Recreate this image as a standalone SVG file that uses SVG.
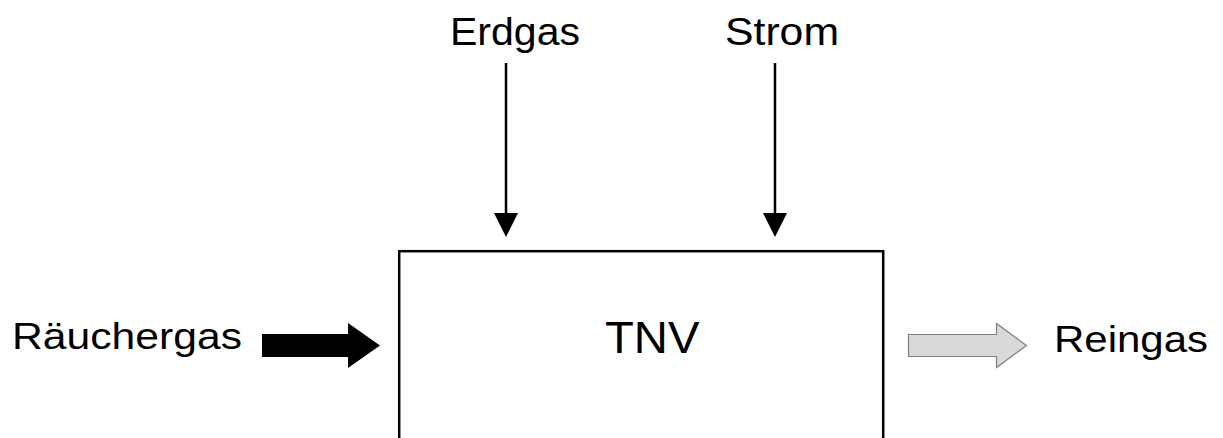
<svg xmlns="http://www.w3.org/2000/svg" width="1223" height="438" viewBox="0 0 1223 438">
  <style>
    .lbl { font-family: "Liberation Sans", Arial, sans-serif; fill: #000; }
    .flow { stroke: #000; stroke-width: 2.5; fill: none; }
    .head { fill: #000; stroke: none; }
  </style>
  <rect width="1223" height="438" fill="#fff"/>

  <!-- process unit -->
  <g id="tnv">
    <rect x="399.2" y="251.2" width="484" height="200" fill="#fff" stroke="#000" stroke-width="2.5"/>
    <text class="lbl" x="605" y="353" font-size="45" textLength="94.5" lengthAdjust="spacingAndGlyphs">TNV</text>
  </g>

  <!-- stream labels -->
  <g id="erdgas">
    <text class="lbl" x="450" y="44.5" font-size="38" textLength="130" lengthAdjust="spacingAndGlyphs">Erdgas</text>
  </g>
  <g id="strom">
    <text class="lbl" x="725" y="45" font-size="38" textLength="114" lengthAdjust="spacingAndGlyphs">Strom</text>
  </g>
  <g id="raeuchergas">
    <text class="lbl" x="12" y="348.5" font-size="37" textLength="230" lengthAdjust="spacingAndGlyphs">Räuchergas</text>
  </g>
  <g id="reingas">
    <text class="lbl" x="1054" y="351.5" font-size="37" textLength="154" lengthAdjust="spacingAndGlyphs">Reingas</text>
  </g>

  <!-- connectors -->
  <g id="connectors">
    <line class="flow" x1="506" y1="63" x2="506" y2="216"/>
    <polygon class="head" points="494,213 518,213 506,237"/>
    <line class="flow" x1="775" y1="63" x2="775" y2="216"/>
    <polygon class="head" points="763,213 787,213 775,237"/>
    <!-- incoming smoke gas: solid black block arrow -->
    <polygon fill="#000" points="262,334 348,334 348,323 380,345.5 348,368 348,357 262,357"/>
    <!-- outgoing clean gas: grey block arrow -->
    <polygon fill="#d9d9d9" stroke="#7f7f7f" stroke-width="1.2" points="908.5,334.5 996.5,334.5 996.5,323.5 1026.5,345.5 996.5,367.5 996.5,356.5 908.5,356.5"/>
  </g>
</svg>
